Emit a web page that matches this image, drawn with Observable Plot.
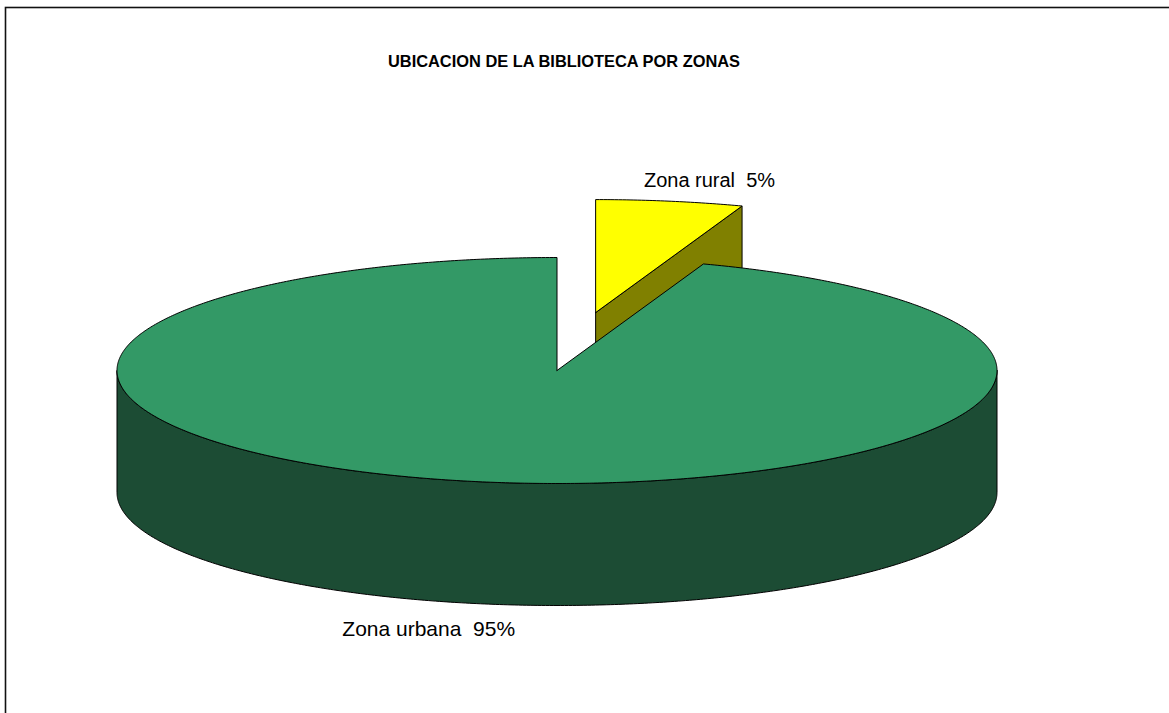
<!DOCTYPE html>
<html>
<head>
<meta charset="utf-8">
<script src="https://cdn.jsdelivr.net/npm/d3@7"></script>
<script src="https://cdn.jsdelivr.net/npm/@observablehq/plot@0.6"></script>
<style>
  html, body { margin: 0; padding: 0; background: #fff; overflow: hidden; }
  #chart svg { display: block; }
</style>
</head>
<body>
<div id="chart"></div>
<script>
// ---- data (labels show rounded percentages) ----
const title = "UBICACION DE LA BIBLIOTECA POR ZONAS";
const categories = ["Zona rural", "Zona urbana"];
const values = [5.4, 94.6];
const exploded = [true, false];

// ---- styles ----
const topColors = ["#FFFF00", "#339966"];
const sideColors = ["#808000", "#1C4C34"];

// ---- geometry (unit ellipse space; y up) ----
const W = 1169, H = 713;
const cx = 556.5, cy = 370, rx = 440, ry = 113;
const depth = 122 / ry;      // thickness in y units
const explode = 0.52;        // fraction of radius

const total = d3.sum(values);
const labels = categories.map((c, i) => `${c}  ${Math.round(values[i] / total * 100)}%`);
const pie = d3.pie().sort(null).value(d => d)(values);
const deg = Math.PI / 180;

function pt(a, off, z) {
  return {x: off.x + Math.sin(a), y: off.y + Math.cos(a) - z * depth};
}
function arcPts(a0, a1, off, z) {
  const n = Math.max(2, Math.ceil((a1 - a0) / (0.5 * deg)));
  return d3.range(n + 1).map(i => pt(a0 + (a1 - a0) * i / n, off, z));
}
function offsetOf(s, i) {
  const mid = (s.startAngle + s.endAngle) / 2;
  return exploded[i] ? {x: explode * Math.sin(mid), y: explode * Math.cos(mid)} : {x: 0, y: 0};
}

const faces = [];
pie.forEach((s, i) => {
  const off = offsetOf(s, i);
  const apexT = {x: off.x, y: off.y};
  const apexB = {x: off.x, y: off.y - depth};
  const sideFaces = [];
  // outer wall: visible front half [90deg, 270deg]
  const w0 = Math.max(s.startAngle, 90 * deg), w1 = Math.min(s.endAngle, 270 * deg);
  if (w1 > w0) {
    const top = arcPts(w0, w1, off, 0);
    const bot = arcPts(w0, w1, off, 1).reverse();
    sideFaces.push([...top, ...bot, top[0]]);
  }
  // cut face at end angle, visible when it lies in (0,180)
  const ea = s.endAngle;
  if (ea > 1e-6 && ea < Math.PI) {
    sideFaces.push([apexT, pt(ea, off, 0), pt(ea, off, 1), apexB, apexT]);
  }
  // cut face at start angle, visible when it lies in (180,360)
  if (s.startAngle > Math.PI && s.startAngle < 2 * Math.PI - 1e-6) {
    sideFaces.push([apexT, pt(s.startAngle, off, 0), pt(s.startAngle, off, 1), apexB, apexT]);
  }
  const topFace = [apexT, ...arcPts(s.startAngle, s.endAngle, off, 0), apexT];
  faces.push({sideFaces, topFace, i, back: exploded[i]});
});

// painter's order: exploded back slice first
faces.sort((a, b) => (b.back ? 1 : 0) - (a.back ? 1 : 0));

const marks = [];
faces.forEach(f => {
  f.sideFaces.forEach(p => marks.push(Plot.line(p, {x: "x", y: "y", fill: sideColors[f.i], stroke: "#000", strokeWidth: 1, strokeLinejoin: "round"})));
  marks.push(Plot.line(f.topFace, {x: "x", y: "y", fill: topColors[f.i], stroke: "#000", strokeWidth: 1, strokeLinejoin: "round"}));
});

// labels anchored to slice mid-angle rim
const labelData = pie.map((s, i) => {
  const mid = (s.startAngle + s.endAngle) / 2;
  const off = offsetOf(s, i);
  const front = Math.cos(mid) < 0;
  return {x: off.x + Math.sin(mid), y: off.y + Math.cos(mid) - (front ? depth : 0), text: labels[i], front};
});

marks.push(Plot.text(labelData.filter(d => !d.front), {x: "x", y: "y", text: "text", textAnchor: "start", lineAnchor: "bottom", dx: -26, dy: -14, fontSize: 20, fill: "#000"}));
marks.push(Plot.text(labelData.filter(d => d.front), {x: "x", y: "y", text: "text", textAnchor: "middle", lineAnchor: "bottom", dx: -54, dy: 32, fontSize: 21, fill: "#000"}));
marks.push(Plot.text([title], {frameAnchor: "top", text: d => d, dx: -21, dy: 55, fontSize: 16.4, fontWeight: "bold", fill: "#000"}));
marks.push(Plot.frame({insetLeft: 5, insetTop: 7, insetRight: -6, insetBottom: -6, stroke: "#111", strokeWidth: 1.6}));

const chart = Plot.plot({
  width: W,
  height: H,
  margin: 0,
  x: {domain: [-cx / rx, (W - cx) / rx], range: [0, W], axis: null},
  y: {domain: [(cy - H) / ry, cy / ry], range: [H, 0], axis: null},
  style: {fontFamily: "Arial, 'Liberation Sans', sans-serif", background: "#fff", overflow: "hidden"},
  marks
});
document.getElementById("chart").appendChild(chart);
</script>
</body>
</html>
